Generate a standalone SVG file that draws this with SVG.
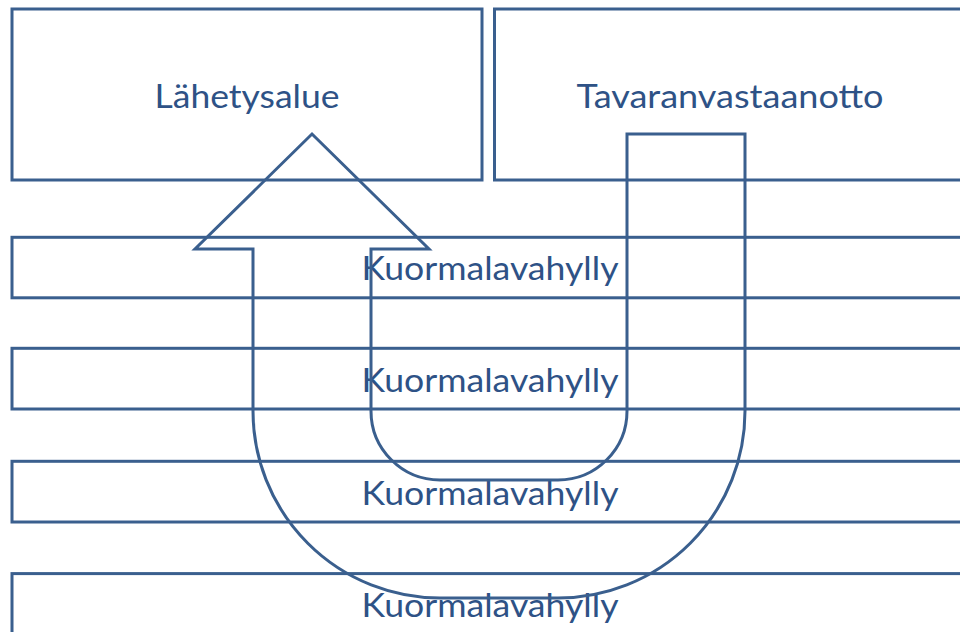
<svg xmlns="http://www.w3.org/2000/svg" width="960" height="632" viewBox="0 0 960 632">
  <style>
    .box { fill: none; stroke: #3A5F8E; stroke-width: 3; }
    .lbl { font-family: Lato, "Open Sans", "Liberation Sans", sans-serif; font-size: 33px; fill: #2E5286; text-anchor: middle; }
  </style>
  <rect width="960" height="632" fill="#ffffff"/>

  <!-- areas -->
  <g id="lahetysalue">
    <rect class="box" x="12" y="9" width="470" height="171"/>
    <text class="lbl" x="247" y="108" textLength="185" lengthAdjust="spacingAndGlyphs">Lähetysalue</text>
  </g>
  <g id="tavaranvastaanotto">
    <rect class="box" x="494.5" y="9" width="470" height="171"/>
    <text class="lbl" x="730" y="108" textLength="307" lengthAdjust="spacingAndGlyphs">Tavaranvastaanotto</text>
  </g>

  <!-- pallet racks -->
  <g id="hylly1">
    <rect class="box" x="12" y="237.3" width="953" height="60.5"/>
    <text class="lbl" x="490" y="280" textLength="257" lengthAdjust="spacingAndGlyphs">Kuormalavahylly</text>
  </g>
  <g id="hylly2">
    <rect class="box" x="12" y="348.3" width="953" height="60.7"/>
    <text class="lbl" x="490" y="392" textLength="257" lengthAdjust="spacingAndGlyphs">Kuormalavahylly</text>
  </g>
  <g id="hylly3">
    <rect class="box" x="12" y="461.3" width="953" height="60.7"/>
    <text class="lbl" x="490" y="505" textLength="257" lengthAdjust="spacingAndGlyphs">Kuormalavahylly</text>
  </g>
  <g id="hylly4">
    <rect class="box" x="12" y="573.6" width="953" height="70"/>
    <text class="lbl" x="490" y="617" textLength="257" lengthAdjust="spacingAndGlyphs">Kuormalavahylly</text>
  </g>

  <!-- U-turn flow arrow from receiving to dispatch -->
  <g id="connectors">
    <path class="box" stroke-linejoin="miter" d="M 627 134 L 745 134 L 745 411 A 187 187 0 0 1 558 598 L 440 598 A 187 187 0 0 1 253 411 L 253 249 L 195 249 L 312 134 L 429 249 L 371 249 L 371 411 A 69 69 0 0 0 440 480 L 558 480 A 69 69 0 0 0 627 411 Z"/>
  </g>
</svg>
